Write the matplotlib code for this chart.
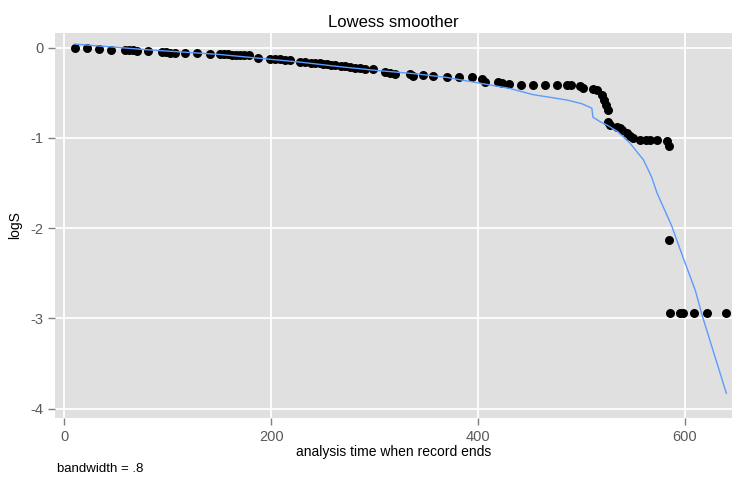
import numpy as np
import matplotlib
matplotlib.use("Agg")
import matplotlib.pyplot as plt

plt.rcParams['font.family'] = ['Liberation Sans', 'DejaVu Sans']

# observed log survival per record (time, logS)
times = [10, 22, 33.5, 45, 58.6, 62.5, 66.4, 70, 81, 94, 98, 102, 107, 116.5, 128, 141,
         150, 154, 158, 162, 166, 170, 174, 178, 187, 199, 204, 208, 213, 218,
         228, 233, 238, 242, 247, 250, 254, 258, 262, 267, 271, 276, 281, 286, 291, 298,
         310, 315, 320, 334, 337, 347, 356, 370, 382, 394, 404, 407, 419, 423, 430,
         441, 453, 465, 476, 486, 490, 499, 501, 511, 515, 520, 522, 524, 526,
         526, 528, 534, 537, 539, 544, 547, 550, 557, 562, 566, 573, 583, 585,
         585, 586, 595, 598, 609, 621, 640]
logS = [0.0, -0.003, -0.014, -0.02, -0.025, -0.03, -0.03, -0.035, -0.042, -0.048, -0.05,
        -0.055, -0.058, -0.06, -0.064, -0.07,
        -0.07, -0.072, -0.075, -0.077, -0.08, -0.082, -0.084, -0.085, -0.115, -0.125,
        -0.128, -0.13, -0.132, -0.135,
        -0.16, -0.163, -0.165, -0.168, -0.17, -0.18, -0.185, -0.19, -0.195, -0.198, -0.2,
        -0.215, -0.22, -0.225, -0.235, -0.236,
        -0.27, -0.28, -0.29, -0.295, -0.31, -0.30, -0.315, -0.325, -0.325, -0.325,
        -0.35, -0.38, -0.38, -0.39, -0.40,
        -0.413, -0.413, -0.413, -0.413, -0.413, -0.413, -0.425, -0.445, -0.46, -0.47,
        -0.52, -0.58, -0.64, -0.69,
        -0.82, -0.86, -0.88, -0.89, -0.91, -0.95, -0.98, -1.0, -1.02, -1.02, -1.02, -1.02,
        -1.035, -1.09,
        -2.13, -2.945, -2.945, -2.945, -2.945, -2.945, -2.945]

# lowess fitted values
fit_t = [10, 83, 150, 228, 266, 300, 340, 370, 400, 430, 453, 486, 500, 510,
         511, 518, 525, 535, 547, 560, 568, 573, 587, 598, 610, 617, 640]
fit_y = [0.04, -0.025, -0.075, -0.16, -0.21, -0.25, -0.29, -0.33, -0.39, -0.45, -0.52,
         -0.58, -0.62, -0.67, -0.77, -0.82, -0.86, -0.93, -1.06, -1.245, -1.44, -1.61,
         -1.97, -2.32, -2.69, -2.98, -3.83]

fig = plt.figure(figsize=(7.32, 4.79), dpi=100)
ax = fig.add_axes([55 / 732, 1 - 418 / 479, 677 / 732, 385 / 479])
ax.set_facecolor('#e0e0e0')
for s in ax.spines.values():
    s.set_visible(False)

ax.scatter(times, logS, s=42, color='black', zorder=3, linewidths=0)
ax.plot(fit_t, fit_y, color='#5b9bff', lw=1.0, zorder=4)

ax.set_xlim(-9.1, 645.5)
ax.set_ylim(-4.105, 0.163)
ax.set_xticks([0, 200, 400, 600])
ax.set_yticks([0, -1, -2, -3, -4])
ax.set_yticklabels(['0', '-1', '-2', '-3', '-4'])
ax.grid(True, color='white', lw=1.3)
ax.set_axisbelow(True)
ax.tick_params(colors='#7f7f7f', labelcolor='#5a5a5a', labelsize=10.5, length=5, width=1)

ax.set_title('Lowess smoother', fontsize=12, pad=4)
ax.set_xlabel('analysis time when record ends', fontsize=10, labelpad=1)
ax.set_ylabel('logS', fontsize=10, labelpad=6)
fig.text(57 / 732, 1 - 469 / 479, 'bandwidth = .8', fontsize=9.5, va='center')

fig.savefig('out.png', dpi=100)
